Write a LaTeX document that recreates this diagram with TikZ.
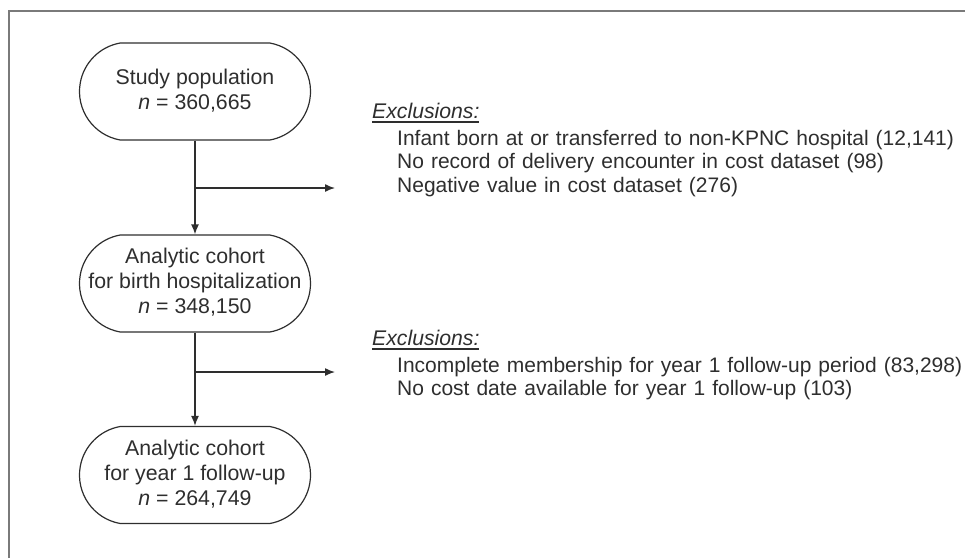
\documentclass[tikz,border=0pt]{standalone}
\usepackage{fontspec}
\setmainfont{Liberation Sans}
\usepackage{tikz}
\usetikzlibrary{shapes.misc}
\usetikzlibrary{arrows.meta}

\definecolor{inkgray}{HTML}{2E2E2E}
\definecolor{framegray}{HTML}{7A7A7A}
\newcommand{\exuline}[1]{\setbox0\hbox{#1}\rlap{\rule[-4.5pt]{\wd0}{1.3pt}}\box0}
\newcommand{\cohortlines}[1]{\makebox[0pt]{\begin{tabular}{@{}c@{}}#1\end{tabular}}}

\tikzset{
  cohort/.style={rounded rectangle, rounded rectangle arc length=160,
    draw=inkgray, line width=1.2pt,
    minimum width=231pt, minimum height=97pt, inner sep=0pt,
    text=inkgray, font=\fontsize{21.3}{25}\selectfont},
  flow/.style={draw=inkgray, line width=1.4pt, -{Latex[length=10pt,width=8pt]}},
  exhead/.style={anchor=base west, inner sep=0pt, text=inkgray,
    font=\fontsize{21.2}{23.5}\selectfont},
  exlist/.style={anchor=base west, inner sep=0pt, text=inkgray, align=left,
    text width=568pt, font=\fontsize{21}{23.5}\selectfont}
}

\begin{document}
\begin{tikzpicture}[x=1pt,y=-1pt]
  \useasboundingbox (0,0) rectangle (965,558);
  \draw [framegray, line width=2pt] (9,558) -- (9,11) -- (965,11);

  % cohorts
  \node [cohort] (pop) at (195,91.5) {\cohortlines{Study population\\\textit{n} = 360,665}};
  \node [cohort] (birth) at (195,283.5) {\cohortlines{Analytic cohort\\for birth hospitalization\\\textit{n} = 348,150}};
  \node [cohort] (year) at (195,475) {\cohortlines{Analytic cohort\\for year 1 follow-up\\\textit{n} = 264,749}};

  \draw [flow] (pop) -- (birth);
  \draw [flow] (birth) -- (year);

  % exclusions
  \coordinate (fork1) at (pop.south |- 0,188);
  \coordinate (out1) at (335,188);
  \draw [flow] (fork1) -- (out1);
  \node [exhead] (exhead1) at (372,118) {\exuline{\textit{Exclusions:}}};
  \node [exlist] (exlist1) at (397,145) {Infant born at or transferred to non-KPNC hospital (12,141)\\No record of delivery encounter in cost dataset (98)\\Negative value in cost dataset (276)};

  \coordinate (fork2) at (birth.south |- 0,372);
  \coordinate (out2) at (335,372);
  \draw [flow] (fork2) -- (out2);
  \node [exhead] (exhead2) at (372,345) {\exuline{\textit{Exclusions:}}};
  \node [exlist] (exlist2) at (397,372) {Incomplete membership for year 1 follow-up period (83,298)\\No cost date available for year 1 follow-up (103)};
\end{tikzpicture}
\end{document}
